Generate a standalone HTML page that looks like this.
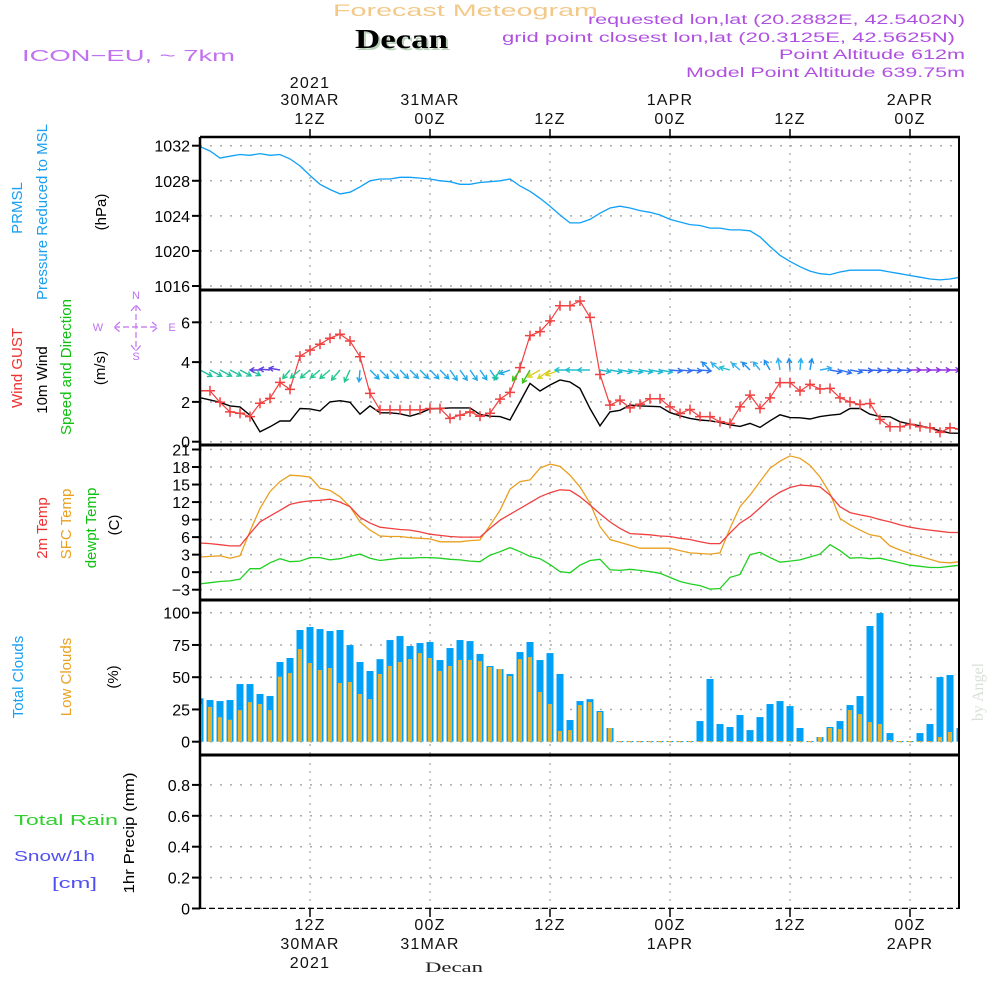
<!DOCTYPE html>
<html><head><meta charset="utf-8">
<style>
html,body{margin:0;padding:0;background:#fff;}
svg{display:block;font-family:"Liberation Sans",sans-serif;}
</style></head>
<body>
<svg id="chart" width="1000" height="1000" viewBox="0 0 1000 1000" xmlns="http://www.w3.org/2000/svg">
<rect x="0" y="0" width="1000" height="1000" fill="#fff"/>
<!-- Titles -->
<text x="333" y="16" font-size="17" fill="#f3c98a" textLength="265" lengthAdjust="spacingAndGlyphs">Forecast Meteogram</text>
<text x="357" y="50" font-size="27" font-weight="bold" font-family="Liberation Serif, serif" fill="#b8d0b8" textLength="93" lengthAdjust="spacingAndGlyphs">Decan</text>
<text x="355" y="48" font-size="27" font-weight="bold" font-family="Liberation Serif, serif" fill="#000" textLength="93" lengthAdjust="spacingAndGlyphs">Decan</text>
<text x="22" y="61" font-size="16" fill="#c070f0" textLength="213" lengthAdjust="spacingAndGlyphs">ICON−EU, ~ 7km</text>
<g font-size="13.5" fill="#b050e0">
<text x="588" y="24" textLength="377" lengthAdjust="spacingAndGlyphs">requested lon,lat (20.2882E, 42.5402N)</text>
<text x="502" y="42" textLength="453" lengthAdjust="spacingAndGlyphs">grid point closest lon,lat (20.3125E, 42.5625N)</text>
<text x="779" y="59" textLength="186" lengthAdjust="spacingAndGlyphs">Point Altitude 612m</text>
<text x="686" y="77" textLength="279" lengthAdjust="spacingAndGlyphs">Model Point Altitude 639.75m</text>
</g>
<!-- left labels -->
<g font-size="15">
<text transform="translate(22,208) rotate(-90)" fill="#1aa0f0" text-anchor="middle">PRMSL</text>
<text transform="translate(47,212) rotate(-90)" fill="#1aa0f0" text-anchor="middle">Pressure Reduced to MSL</text>
<text transform="translate(106,212) rotate(-90)" fill="#000" text-anchor="middle">(hPa)</text>
<text transform="translate(22,368) rotate(-90)" fill="#f03030" text-anchor="middle">Wind GUST</text>
<text transform="translate(47,380) rotate(-90)" fill="#000" text-anchor="middle">10m Wind</text>
<text transform="translate(71,367) rotate(-90)" fill="#10c010" text-anchor="middle">Speed and Direction</text>
<text transform="translate(105,368) rotate(-90)" fill="#000" text-anchor="middle">(m/s)</text>
<text transform="translate(47,528) rotate(-90)" fill="#f03030" text-anchor="middle">2m Temp</text>
<text transform="translate(71,524) rotate(-90)" fill="#eaa020" text-anchor="middle">SFC Temp</text>
<text transform="translate(96,528) rotate(-90)" fill="#10c010" text-anchor="middle">dewpt Temp</text>
<text transform="translate(119,525) rotate(-90)" fill="#000" text-anchor="middle">(C)</text>
<text transform="translate(23,677) rotate(-90)" fill="#1aa0f0" text-anchor="middle">Total Clouds</text>
<text transform="translate(71,677) rotate(-90)" fill="#eaa020" text-anchor="middle">Low Clouds</text>
<text transform="translate(118,677) rotate(-90)" fill="#000" text-anchor="middle">(%)</text>
<text transform="translate(134,833) rotate(-90)" fill="#000" text-anchor="middle" textLength="121" lengthAdjust="spacingAndGlyphs">1hr Precip (mm)</text>
</g>
<g font-size="15">
<text x="14" y="825" fill="#30d030" textLength="104" lengthAdjust="spacingAndGlyphs">Total  Rain</text>
<text x="14" y="861" fill="#5050f0" textLength="81" lengthAdjust="spacingAndGlyphs">Snow/1h</text>
<text x="52" y="888" fill="#5050f0" textLength="45" lengthAdjust="spacingAndGlyphs">[cm]</text>
</g>
<!-- compass -->
<g fill="#c070f0" font-size="11" text-anchor="middle">
<text x="136" y="299">N</text><text x="136" y="360">S</text><text x="98" y="331">W</text><text x="172" y="331">E</text>
<path d="M114 327 H158 M136 305 V351 M120 322 L114 327 L120 332 M152 322 L158 327 L152 332 M131 311 L136 305 L141 311 M131 345 L136 351 L141 345" stroke="#c070f0" stroke-width="1.2" fill="none" stroke-dasharray="6,3"/>
</g>
<text transform="translate(983,692) rotate(-90)" font-family="Liberation Serif, serif" font-size="16" fill="#d8e0d8" text-anchor="middle">by Angel</text>
<text x="425" y="972" font-family="Liberation Serif, serif" font-size="15" fill="#222" textLength="58" lengthAdjust="spacingAndGlyphs">Decan</text>
<g id="plots"></g>
</svg>
<script>
// ---- data (hourly from 01Z 30MAR 2021) ----
const hours = Array.from({length:77},(_,i)=>i);
const pressure = [1031.9,1031.4,1030.6,1030.8,1031.0,1030.9,1031.1,1030.9,1031.0,1030.5,1029.7,1028.6,1027.6,1027.0,1026.5,1026.7,1027.3,1028.0,1028.2,1028.2,1028.4,1028.4,1028.3,1028.2,1028.0,1027.9,1027.6,1027.6,1027.8,1027.9,1028.0,1028.2,1027.4,1026.8,1026.0,1025.1,1024.1,1023.2,1023.2,1023.6,1024.3,1024.9,1025.1,1024.9,1024.6,1024.4,1024.1,1023.6,1023.3,1023.0,1022.9,1022.6,1022.6,1022.4,1022.4,1022.3,1021.6,1020.5,1019.5,1018.8,1018.2,1017.7,1017.4,1017.3,1017.6,1017.8,1017.8,1017.8,1017.8,1017.6,1017.4,1017.2,1017.0,1016.8,1016.7,1016.8,1017.0];
const windGust = [2.56,2.56,1.98,1.5,1.43,1.26,1.93,2.18,2.98,2.63,4.3,4.6,4.9,5.2,5.4,5.06,4.27,2.43,1.6,1.6,1.6,1.6,1.6,1.67,1.67,1.17,1.33,1.5,1.28,1.43,2.14,2.48,3.72,5.33,5.53,6.07,6.83,6.83,7.07,6.25,3.38,1.84,2.09,1.7,1.88,2.16,2.16,1.75,1.42,1.62,1.26,1.26,1.0,0.92,1.75,2.34,1.67,2.2,2.97,2.97,2.55,2.88,2.65,2.68,2.2,2.0,1.87,1.92,1.12,0.75,0.75,0.87,0.75,0.7,0.47,0.7,0.64];
const windSpeed = [2.21,2.1,1.98,1.8,1.75,1.33,0.5,0.75,1.04,1.04,1.67,1.65,1.55,2.0,2.06,1.98,1.38,1.8,1.45,1.45,1.4,1.28,1.43,1.65,1.67,1.7,1.7,1.7,1.37,1.28,1.26,1.09,2.0,2.93,2.55,2.85,3.1,3.0,2.68,1.67,0.8,1.5,1.58,1.84,1.8,1.78,1.76,1.46,1.3,1.17,1.09,1.05,0.97,0.85,0.77,0.92,0.72,1.05,1.35,1.21,1.2,1.14,1.26,1.33,1.38,1.67,1.67,1.38,1.26,1.25,1.0,0.89,0.8,0.69,0.55,0.43,0.42];
// direction the arrow points, screen degrees (0 = east, 90 = south)
const windDir = [28,28,28,28,28,28,180,185,190,130,140,140,140,140,130,115,95,45,45,45,45,45,45,45,45,55,55,55,55,55,120,160,125,120,150,145,160,180,180,180,10,10,10,10,10,10,10,5,5,5,5,225,220,195,220,225,230,240,260,265,275,280,350,10,15,10,3,3,3,3,3,0,0,0,0,0,0];
const temp2m = [5.0,4.9,4.7,4.5,4.5,6.6,8.6,9.6,10.6,11.6,12.0,12.2,12.3,12.5,12.0,11.2,9.4,8.4,7.7,7.5,7.3,7.2,6.9,6.5,6.3,6.1,6.0,6.0,6.0,7.5,8.9,9.9,10.9,11.9,12.9,13.6,14.1,14.0,12.9,11.5,10.0,8.6,7.5,6.6,6.5,6.4,6.2,6.1,5.8,5.6,5.2,4.9,4.9,6.7,8.4,9.5,11.0,12.6,13.7,14.5,14.9,14.8,14.6,13.2,11.2,10.2,9.8,9.5,9.0,8.6,8.1,7.7,7.4,7.2,7.0,6.8,6.8];
const tempSfc = [2.6,2.7,2.8,2.4,2.8,7.0,10.9,13.8,15.5,16.6,16.5,16.3,14.4,14.0,12.9,11.2,8.6,7.2,6.2,6.1,6.1,5.9,5.8,5.7,5.2,5.2,5.2,5.4,5.5,8.0,10.6,14.2,15.5,15.8,17.8,18.5,18.1,16.6,14.6,11.8,7.8,5.6,5.1,4.6,4.1,4.1,4.1,4.1,3.7,3.3,3.2,3.1,3.3,7.5,11.2,13.2,15.5,17.8,19.0,19.9,19.5,18.3,16.3,13.5,9.2,8.1,7.2,6.4,6.1,4.5,3.8,3.2,2.7,2.2,1.7,1.6,1.8];
const dewpt = [-2.0,-1.8,-1.6,-1.5,-1.2,0.6,0.6,1.6,2.3,1.8,1.9,2.5,2.5,2.1,2.3,2.7,3.1,2.4,2.0,2.2,2.4,2.4,2.5,2.5,2.4,2.2,2.1,1.9,1.8,2.9,3.5,4.2,3.5,2.7,2.3,1.3,0.1,-0.1,1.2,2.0,2.2,0.4,0.3,0.5,0.3,0.1,-0.2,-0.9,-1.6,-2.0,-2.3,-2.9,-2.8,-0.9,-0.4,3.0,3.4,2.5,1.7,1.9,2.1,2.6,3.1,4.7,3.7,2.4,2.5,2.3,2.4,2.0,1.6,1.2,1.0,0.8,0.8,1.0,1.2];
const totalClouds = [33.6,32.3,31.5,32.3,44.7,44.7,37,35.4,61.8,64.9,86.6,88.9,87.3,85.8,86.6,74.9,61.8,54.8,64,78.8,81.9,74.2,76.5,77.3,63.3,72.6,78.8,78,68,58.7,56.3,52.5,69.5,77.3,63.3,68.7,52.5,16.8,31.5,33,23.8,10.6,0.5,0.5,0.5,0.5,0.5,0.5,0.5,0.5,16,48.6,13.7,11.4,20.7,9,19.1,29.2,31.5,27.6,10.6,0.5,3.6,11.4,16,28.4,35.4,89.7,99.7,6.7,0.5,0.5,6.7,13.7,50.1,51.7,10.6];
const lowClouds = [29,27,19,17,24.5,30.7,29.2,24.5,50.4,53.2,71.8,61,55.6,57.1,45.5,46.3,37,33,52.5,58.7,61.8,64,68.7,64.9,54.8,58.7,63.3,63.3,62.5,57.9,56.3,50.9,64,65.6,38.5,29.2,8.3,9,28.4,30.7,23,10.6,0.5,0.5,0.5,0.5,0.5,0.5,0.5,0.5,0.5,0.5,0.5,0.5,0.5,0.5,0.5,0.5,0.5,0.5,0.5,0.5,3.6,10.6,9.8,24.5,21.4,15.2,13.7,1.3,0.5,0.5,0.5,0.5,3.6,7.5,6.7];
const precip = Array.from({length:77},()=>0);
const pTicks = [1032,1028,1024,1020,1016];
const wTicks = [0,2,4,6];
const tTicks = [21,18,15,12,9,6,3,0,-3];
const cTicks = [0,25,50,75,100];
const rTicks = [0,0.2,0.4,0.6,0.8];
const timeLabelsTop = [["2021","30MAR","12Z"],["","31MAR","00Z"],["","","12Z"],["","1APR","00Z"],["","","12Z"],["","2APR","00Z"]];
const timeLabelsBottom = [["12Z","30MAR","2021"],["00Z","31MAR",""],["12Z","",""],["00Z","1APR",""],["12Z","",""],["00Z","2APR",""]];
const gridHours = [11,23,35,47,59,71];

// ---- drawing ----
const NS="http://www.w3.org/2000/svg";
const root=document.getElementById('plots');
function el(tag,attrs,parent){const e=document.createElementNS(NS,tag);for(const k in attrs)e.setAttribute(k,attrs[k]);(parent||root).appendChild(e);return e;}
const X0=200,X1=960;
const xS=h=>X0+10*h;
function lin(d0,d1,r0,r1){return v=>r0+(v-d0)*(r1-r0)/(d1-d0);}
const panels=[
 {name:'pressure',top:137,bot:290,y:lin(1016,1032,286,145.7),ticks:pTicks,fmt:v=>String(v)},
 {name:'wind',top:290,bot:445,y:lin(0,6,441.7,322.3),ticks:wTicks,fmt:v=>String(v)},
 {name:'temperature',top:445,bot:600,y:lin(-3,21,589.7,449.5),ticks:tTicks,fmt:v=>v<0?'−'+(-v):String(v)},
 {name:'clouds',top:600,bot:755,y:lin(0,100,741.7,612.7),ticks:cTicks,fmt:v=>String(v)},
 {name:'precip',top:755,bot:909,y:lin(0,1,908.5,754),ticks:rTicks,fmt:v=>String(v)}
];
const defs=el('defs',{});
panels.forEach((p,pi)=>{
  const cp=el('clipPath',{id:'clip'+pi},defs);
  el('rect',{x:X0,y:p.top,width:X1-X0,height:p.bot-p.top},cp);
  const g=el('g',{});
  
  
  p.ticks.forEach(t=>{
    const yy=p.y(t);
    const gl=el('line',{x1:X0,x2:X1,y1:yy,y2:yy,stroke:'#aaa','stroke-width':1.5,'stroke-dasharray':'2,8'},g);
    
    
    el('line',{x1:X0-8,x2:X0,y1:yy,y2:yy,stroke:'#000','stroke-width':2},g);
    const tx=el('text',{x:X0-10,y:yy+6,'font-size':16,'text-anchor':'end',fill:'#000'},g);
    
    
    tx.textContent=p.fmt(t);
  });
  gridHours.forEach(h=>{
    const vl=el('line',{x1:xS(h),x2:xS(h),y1:p.top,y2:p.bot,stroke:'#aaa','stroke-width':1.3,'stroke-dasharray':'2,6'},g);
    
    
  });
  p.g=g;
});
function line(p,vals,color,name,w){
  const d=vals.map((v,i)=>(i?'L':'M')+xS(hours[i]).toFixed(1)+' '+p.y(v).toFixed(1)).join(' ');
  const e=el('path',{d:d,fill:'none',stroke:color,'stroke-width':w||1.3,'clip-path':'url(#clip'+panels.indexOf(p)+')'},p.g);
  
  
  return e;
}
line(panels[0],pressure,'#10a0f8','pressure-line');
const wp=panels[1];
line(wp,windSpeed,'#000','wind-speed-line',1.4);
line(wp,windGust,'#f04040','wind-gust-line',1.2);
windGust.forEach((v,i)=>{
  const x=xS(hours[i]),y=wp.y(v);
  const m=el('path',{d:`M${x-5} ${y} H${x+5} M${x} ${y-5} V${y+5}`,stroke:'#f04040','stroke-width':1.5,'clip-path':'url(#clip1)'},wp.g);
  
  
});
function arrowColor(i){
  const d=windDir[i];
  if(d>=135&&d<=160&&i>=34&&i<=36) return '#d8d020';
  if(d>=115&&d<=150) return (i>=32?'#40c020':'#20c890');
  if(d>=170&&d<=200) return i>=37?'#20c0d0':'#6040e0';
  if(d>=210) return i%2?'#2090f0':'#30b0f0';
  if(d<30&&i>=66) return i>=71?'#9030e0':'#3060f0';
  if(d<=30&&i<10) return '#20c0a0';
  if(d<=30) return i>=47?'#3070f0':'#20b8d0';
  return '#20a8e8';
}
windDir.forEach((d,i)=>{
  const x=xS(hours[i]),y=370;
  const L=Math.min(15,9+2*windSpeed[i]);
  const a=d*Math.PI/180;
  const x2=x+L*Math.cos(a),y2=y+L*Math.sin(a);
  const h1=a+Math.PI*0.83,h2=a-Math.PI*0.83;
  const c=arrowColor(i);
  const ar=el('path',{d:`M${x} ${y} L${x2} ${y2} M${x2+5*Math.cos(h1)} ${y2+5*Math.sin(h1)} L${x2} ${y2} L${x2+5*Math.cos(h2)} ${y2+5*Math.sin(h2)}`,stroke:c,'stroke-width':1.4,fill:'none','clip-path':'url(#clip1)'},wp.g);
  
  
});
const tp=panels[2];
line(tp,dewpt,'#20d020','dewpoint-line');
line(tp,tempSfc,'#eaa020','sfc-temp-line');
line(tp,temp2m,'#f04040','temp-2m-line');
const cp=panels[3];
totalClouds.forEach((v,i)=>{
  const x=xS(hours[i]),y0=cp.y(0),yt=cp.y(v);
  const b=el('rect',{x:x-3.5,y:yt,width:7,height:Math.max(1,y0-yt),fill:'#00a0f8','clip-path':'url(#clip3)'},cp.g);
  
  
});
lowClouds.forEach((v,i)=>{
  const x=xS(hours[i]),y0=cp.y(0),yt=cp.y(v);
  const b=el('rect',{x:x-2,y:yt,width:4,height:Math.max(1,y0-yt),fill:'#e8b030','clip-path':'url(#clip3)'},cp.g);
  
  
});
const rp=panels[4];
const pl=line(rp,precip,'#000','precip-line',1.5);
pl.setAttribute('stroke-dasharray','6,3');
panels.forEach((p,pi)=>{
  el('line',{x1:X0,x2:X0,y1:p.top,y2:p.bot,stroke:'#000','stroke-width':2.5});
  el('line',{x1:X1-1,x2:X1-1,y1:p.top,y2:p.bot,stroke:'#000','stroke-width':2});
  el('line',{x1:X0,x2:X1,y1:p.top,y2:p.top,stroke:'#000','stroke-width':pi==0?2.5:3});
});
gridHours.forEach((h,i)=>{
  const x=xS(h);
  el('line',{x1:x,x2:x,y1:129,y2:137,stroke:'#000','stroke-width':1.5});
  el('line',{x1:x,x2:x,y1:909,y2:917,stroke:'#000','stroke-width':1.5});
  [88,105,124].forEach((yy,j)=>{
    const s=timeLabelsTop[i][j]; if(!s) return;
    const t=el('text',{x:x,y:yy,'font-size':16,'text-anchor':'middle',fill:'#111','letter-spacing':1.2});
    
    
    t.textContent=s;
  });
  [930,949,968].forEach((yy,j)=>{
    const s=timeLabelsBottom[i][j]; if(!s) return;
    const t=el('text',{x:x,y:yy,'font-size':16,'text-anchor':'middle',fill:'#111','letter-spacing':1.2});
    
    
    t.textContent=s;
  });
});
</script>
</body></html>
